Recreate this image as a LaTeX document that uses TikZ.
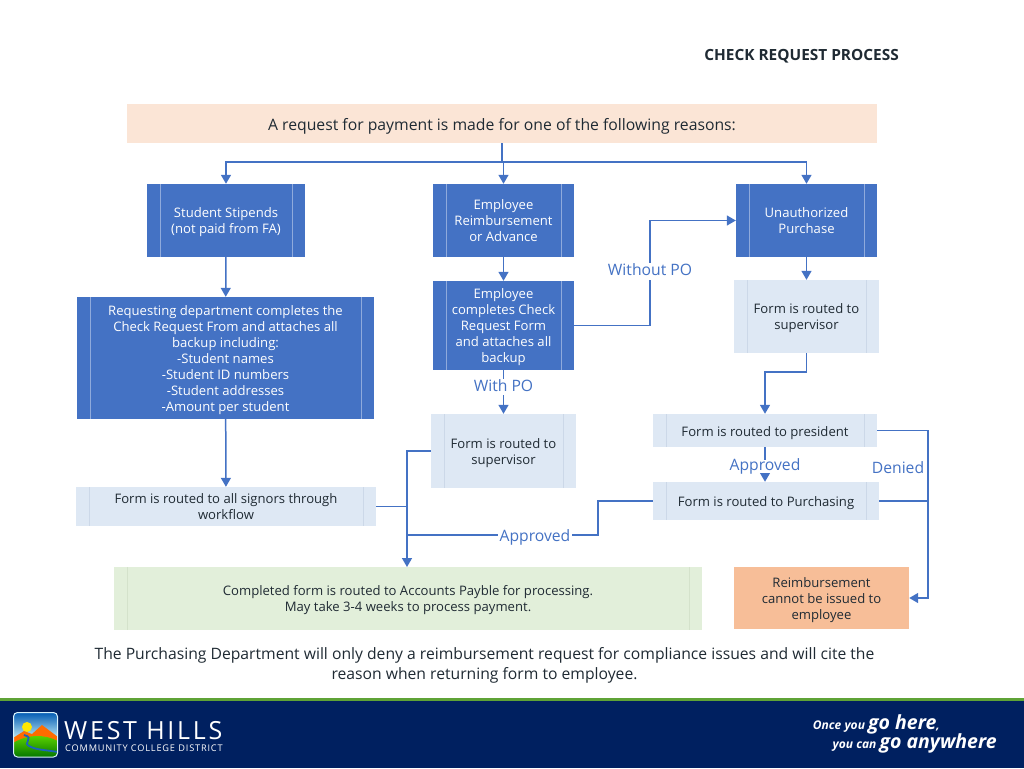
\documentclass[tikz,border=0pt]{standalone}
\usepackage{fontspec}
\setmainfont{Open Sans}
\usetikzlibrary{arrows.meta}
\definecolor{linkblue}{HTML}{4472C4}
\definecolor{darkfill}{HTML}{4472C4}
\definecolor{darkbar}{HTML}{8FAADC}
\definecolor{lightfill}{HTML}{DEE8F4}
\definecolor{lightbar}{HTML}{CCD8E8}
\definecolor{greenfill}{HTML}{E2EFDA}
\definecolor{greenbar}{HTML}{D4E2CB}
\definecolor{peachfill}{HTML}{FBE5D6}
\definecolor{orangefill}{HTML}{F7BE98}
\definecolor{navyband}{HTML}{002060}
\definecolor{greenrule}{HTML}{5FA336}
\definecolor{inktext}{HTML}{1F2A33}
\newcommand{\firstrow}{\rule{0pt}{1.22em}}

\begin{document}
\begin{tikzpicture}[x=1pt,y=-1pt,
  box/.style={inner sep=0pt,align=center,font=\fontsize{13.1}{16}\selectfont,
    execute at begin node={\rule{0pt}{1.25em}},
    execute at end node={\rule[-.4em]{0pt}{.4em}}},
  bars/.style={path picture={
    \draw[#1,line width=.7pt]
      ([xshift=13pt]path picture bounding box.north west) -- ([xshift=13pt]path picture bounding box.south west)
      ([xshift=-13pt]path picture bounding box.north east) -- ([xshift=-13pt]path picture bounding box.south east);}},
  darkbox/.style={box,fill=darkfill,text=white,bars=darkbar},
  lightbox/.style={box,fill=lightfill,text=inktext,bars=lightbar},
  word/.style={inner xsep=1.5pt,inner ysep=0pt,yshift=-2pt,text=linkblue,font=\fontsize{15.7}{16}\selectfont,
    execute at begin node={\rule{0pt}{.8em}},
    execute at end node={\rule[-.26em]{0pt}{.26em}}},
  tag/.style={word,fill=white},
  link/.style={draw=linkblue,line width=1.5pt},
  tip/.style={link,-{Triangle[length=9pt,width=10pt]}}]
\useasboundingbox (0,0) rectangle (1024,768);

% heading
\node[font=\bfseries\fontsize{15.4}{16}\selectfont,text=inktext,anchor=east,inner sep=0pt] (heading) at (899,56) {CHECK REQUEST PROCESS};
\node[box,fill=peachfill,text=inktext,minimum width=750pt,minimum height=39pt,font=\fontsize{15.75}{16}\selectfont,
  execute at begin node={\rule{0pt}{1.1em}}] (reasons) at (502,123.5) {A request for payment is made for one of the following reasons:};

% left column
\node[darkbox,minimum width=158pt,minimum height=73pt] (stipends) at (226,220.5) {\firstrow Student Stipends\\(not paid from FA)};
\node[darkbox,minimum width=297pt,minimum height=122pt] (backup) at (225.5,358) {\firstrow Requesting department completes the\\Check Request From and attaches all\\backup including:\\-Student names\\-Student ID numbers\\-Student addresses\\-Amount per student};
\node[lightbox,minimum width=300pt,minimum height=39pt] (signors) at (226,506.5) {\firstrow Form is routed to all signors through\\workflow};

% middle column
\node[darkbox,minimum width=141pt,minimum height=73pt] (employee) at (503.5,220.5) {\firstrow Employee\\Reimbursement\\or Advance};
\node[darkbox,minimum width=141pt,minimum height=89pt] (empform) at (503.5,325.5) {\firstrow Employee\\completes Check\\Request Form\\and attaches all\\backup};
\node[lightbox,minimum width=145pt,minimum height=74pt] (midsuper) at (503.5,451) {\firstrow Form is routed to\\supervisor};

% right column
\node[darkbox,minimum width=141pt,minimum height=73pt] (unauth) at (806.5,220.5) {\firstrow Unauthorized\\Purchase};
\node[lightbox,minimum width=145pt,minimum height=73pt] (rightsuper) at (806.5,316.5) {\firstrow Form is routed to\\supervisor};
\node[lightbox,minimum width=224pt,minimum height=33pt] (president) at (765,430.5) {Form is routed to president};
\node[lightbox,minimum width=226pt,minimum height=38pt] (purchasing) at (766,501) {Form is routed to Purchasing};

% outcomes
\node[box,fill=greenfill,text=inktext,minimum width=588pt,minimum height=63pt,bars=greenbar] (payable) at (408,598.5) {\firstrow Completed form is routed to Accounts Payble for processing.\\May take 3-4 weeks to process payment.};
\node[box,fill=orangefill,text=inktext,minimum width=175pt,minimum height=62pt] (refused) at (821.5,598) {\firstrow Reimbursement\\cannot be issued to\\employee};
\node[text=inktext,align=center,inner sep=0pt,font=\fontsize{15.7}{20}\selectfont] (note) at (484.5,665) {The Purchasing Department will only deny a reimbursement request for compliance issues and will cite the\\reason when returning form to employee.};

% routing points
\coordinate (split) at (502,162);
\coordinate (midjoin) at (407,535);
\coordinate (denyrail) at (928,501);
\coordinate (bend) at (598,535);

% connectors
\draw[link] (reasons.south -| split) -- (split);
\draw[tip] (split) -| (stipends.north);
\draw[tip] (split) -| (unauth.north);
\draw[tip] (split) -- (split -| employee) -- (employee.north);
\draw[tip] (stipends) -- (backup);
\draw[tip] (backup) -- (signors);
\draw[tip] (employee) -- (empform);
\draw[tip] (unauth) -- (rightsuper);
\draw[tip] (empform.south) -- node[tag,pos=.34] {With PO} (midsuper.north);
\draw[tip] (president.south) -- node[tag,pos=.5,inner ysep=-1.5pt] {Approved} (purchasing.north -| president.south);
\draw[tip] (empform.east) -- (650,325.5) |- node[tag,pos=.267] {Without PO} (unauth.west);
\draw[tip] (rightsuper.south) -- (806.5,372) -| (president.north);
\draw[tip] (midsuper.west) -| (407,567);
\draw[link] (signors.east) -- (signors.east -| midjoin);
\draw[link] (purchasing.west) -- (598,501) -- (bend) -- node[tag,pos=.33] {Approved} (midjoin);
\draw[tip] (president.east) -- (928,430.5) |- (refused.east);
\draw[link] (purchasing.east) -- (denyrail);
\node[word] (denied) at (898,467) {Denied};

% footer band
\fill[navyband] (0,700) rectangle (1024,768);
\fill[greenrule] (0,698) rectangle (1024,700.5);

% logo
\begin{scope}
\clip[rounded corners=4pt] (13.5,712.5) rectangle (57.5,757);
\shade[top color=blue!50!cyan!70!black,bottom color=cyan!15] (13,712) rectangle (58,742);
\fill[yellow!90!orange] (27,727) circle (5pt);
\fill[orange!85!red] (13,738) -- (24,731) -- (32,734) -- (42,725) -- (50,731) -- (58,737) -- (58,745) -- (13,745) -- cycle;
\shade[top color=green!55!yellow!85!black,bottom color=green!45!black] (13,743) .. controls (28,734) and (44,734) .. (58,741) -- (58,758) -- (13,758) -- cycle;
\draw[cyan!40!blue,line width=1.8pt] (24,735) .. controls (36,738) and (20,743) .. (31,747) .. controls (38,750) and (46,750) .. (58,752);
\end{scope}
\draw[white!85!cyan,line width=1pt,rounded corners=4pt] (13.5,712.5) rectangle (57.5,757);
\node[text=white,anchor=west,inner sep=0pt,font=\addfontfeature{LetterSpace=11}\fontsize{25}{25}\selectfont] (westhills) at (64,731) {WEST HILLS};
\node[text=white,anchor=west,inner sep=0pt,font=\addfontfeature{LetterSpace=9}\fontsize{9.2}{10}\selectfont] (district) at (65,748.5) {COMMUNITY COLLEGE DISTRICT};

% slogan
\node[text=white,anchor=east,inner sep=0pt,align=right,font=\bfseries\itshape\fontsize{12}{16}\selectfont] (slogan) at (997,734) {Once you {\fontsize{19.5}{16}\selectfont go here},\hspace*{57pt}\\[-2pt]you can {\fontsize{19.5}{16}\selectfont go anywhere}};
\end{tikzpicture}
\end{document}
